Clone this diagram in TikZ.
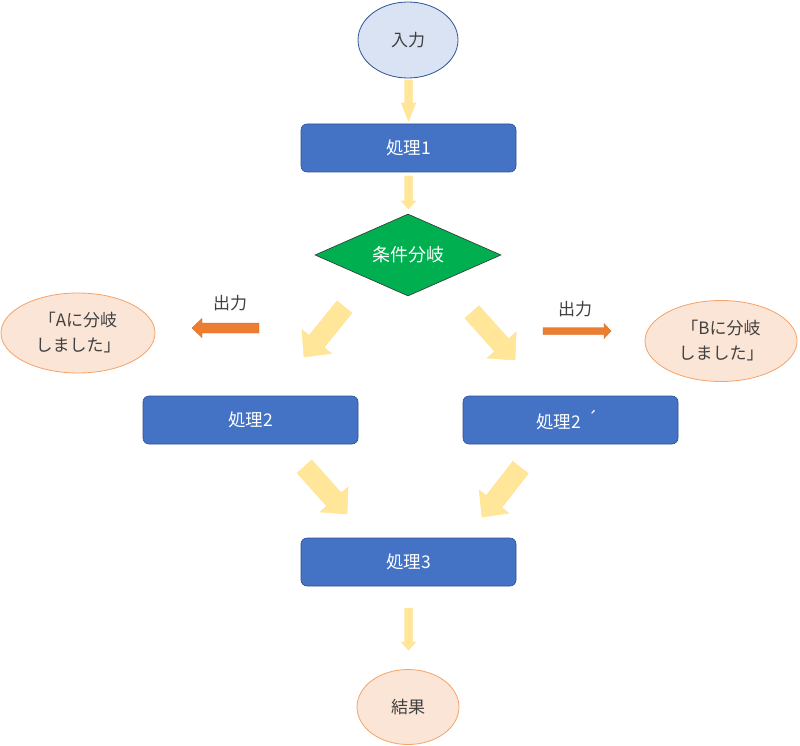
\documentclass[tikz,border=0pt]{standalone}
\usepackage{fontspec}
\setmainfont{Noto Sans CJK JP}
\usetikzlibrary{calc,shapes.geometric}
\definecolor{boxblue}{HTML}{4472C4}
\definecolor{boxblueline}{HTML}{2F528F}
\definecolor{inblue}{HTML}{DAE3F3}
\definecolor{inblueline}{HTML}{2F5597}
\definecolor{dgreen}{HTML}{00B050}
\definecolor{peach}{HTML}{FBE5D6}
\definecolor{peachline}{HTML}{F4A46A}
\definecolor{yarrow}{HTML}{FFE699}
\definecolor{yarrowline}{HTML}{FFE28A}
\definecolor{oarrow}{HTML}{ED7D31}
\definecolor{oarrowline}{HTML}{D46A22}
\definecolor{txtgray}{HTML}{404040}
\newcommand\fatarrow[6]{%
  \path ($(#3)!#6pt!(#2)$) coordinate (fa-n);
  \filldraw[#1] ($(#2)!#4pt!90:(#3)$) -- ($(fa-n)!#4pt!90:(#3)$) -- ($(fa-n)!#5pt!90:(#3)$) -- (#3)
    -- ($(fa-n)!#5pt!-90:(#3)$) -- ($(fa-n)!#4pt!-90:(#3)$) -- ($(#2)!#4pt!-90:(#3)$) -- cycle;}
\begin{document}
\begin{tikzpicture}[x=1pt,y=-1pt,
  procbox/.style={rectangle, rounded corners=6pt, fill=boxblue, draw=boxblueline, line width=0.6pt,
    minimum width=215pt, minimum height=48pt, text=white, font=\fontsize{17.5}{20}\selectfont},
  ovalnode/.style={ellipse, inner sep=0pt, line width=0.8pt, text=txtgray, font=\fontsize{17}{25}\selectfont, align=center},
  yellowarrow/.style={fill=yarrow, draw=yarrowline, line width=0.4pt},
  orangearrow/.style={fill=oarrow, draw=oarrowline, line width=0.4pt},
  lbl/.style={text=txtgray, font=\fontsize{17}{20}\selectfont}]
\useasboundingbox (0,0) rectangle (800,746);
\fill[white] (0,0) rectangle (800,746);

% nodes
\node[ovalnode, fill=inblue, draw=inblueline, minimum width=100pt, minimum height=76pt] (in) at (408,40) {入力};
\node[procbox] (p1) at (408.5,148) {処理1};
\node[diamond, fill=dgreen, draw=black!80, line width=0.6pt, minimum width=186pt, minimum height=82pt, inner sep=0pt] (cond) at (408,255) {};
\node[text=white, font=\fontsize{18}{20}\selectfont] (condtxt) at (cond.center) {条件分岐};
\node[procbox] (p2a) at (250.5,420) {処理2};
\node[procbox] (p2b) at (570.5,420) {\kern-7pt処理2\kern6pt\raisebox{3pt}{´}};
\node[procbox] (p3) at (408.5,562) {処理3};
\node[ovalnode, fill=peach, draw=peachline, minimum width=102pt, minimum height=75pt] (res) at (408,707) {結果};
\node[ovalnode, fill=peach, draw=peachline, minimum width=154pt, minimum height=80pt] (oa) at (78,333) {「Aに分岐\\しました」};
\node[ovalnode, fill=peach, draw=peachline, minimum width=152pt, minimum height=81pt] (ob) at (721,341) {「Bに分岐\\しました」};
\node[lbl] (la) at (230,303) {出力};
\node[lbl] (lb) at (575,309) {出力};

% arrow coordinates
\coordinate (a1t) at (408.5,80);  \coordinate (a1h) at (408.5,121);
\coordinate (a2t) at (408.5,176); \coordinate (a2h) at (408.5,209);
\coordinate (a3t) at (408.5,608); \coordinate (a3h) at (408.5,650);
\coordinate (d1t) at (344.5,307); \coordinate (d1h) at (304,357);
\coordinate (d2t) at (472,312);   \coordinate (d2h) at (515,360);
\coordinate (d3t) at (304.5,466.5); \coordinate (d3h) at (347,514);
\coordinate (d4t) at (520.5,467.5); \coordinate (d4h) at (482,517);
\coordinate (o1t) at (259,328);   \coordinate (o1h) at (192,328);
\coordinate (o2t) at (543,331);   \coordinate (o2h) at (611,331);

% arrows
\fatarrow{yellowarrow}{a1t}{a1h}{3.8}{7.2}{18}
\fatarrow{yellowarrow}{a2t}{a2h}{3.8}{7.2}{8}
\fatarrow{yellowarrow}{a3t}{a3h}{3.8}{7.2}{8}
\fatarrow{yellowarrow}{d1t}{d1h}{9.6}{19}{20}
\fatarrow{yellowarrow}{d2t}{d2h}{9.4}{19.5}{20}
\fatarrow{yellowarrow}{d3t}{d3h}{9.8}{18.8}{19.5}
\fatarrow{yellowarrow}{d4t}{d4h}{9.8}{18.8}{19.5}
\fatarrow{orangearrow}{o1t}{o1h}{5}{9.5}{10}
\fatarrow{orangearrow}{o2t}{o2h}{3.5}{7.5}{7}
\end{tikzpicture}
\end{document}
